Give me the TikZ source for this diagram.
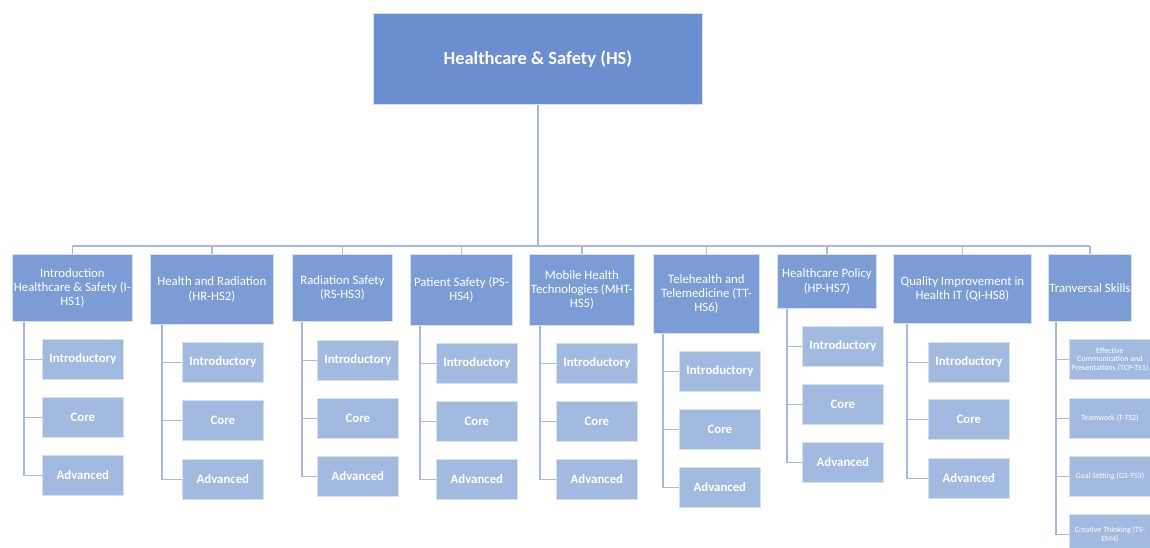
\documentclass[tikz,border=0pt]{standalone}
\usepackage{fontspec}
\setmainfont{Carlito}
\definecolor{rootblue}{HTML}{6A8ECF}
\definecolor{areablue}{HTML}{7C9CD5}
\definecolor{levelblue}{HTML}{A2B9E0}
\definecolor{linkblue}{HTML}{A9B8DE}
\definecolor{edgeblue}{HTML}{D6E0F2}
\begin{document}
\begin{tikzpicture}[x=1pt,y=-1pt,
  boxbase/.style={anchor=north west, draw=edgeblue, line width=0.8pt, inner sep=1pt,
    text=white, align=center},
  rootbox/.style={boxbase, fill=rootblue, font=\fontsize{18.5}{22}\selectfont\bfseries},
  areabox/.style={boxbase, fill=areablue, font=\fontsize{12.8}{14.2}\selectfont},
  levelbox/.style={boxbase, fill=levelblue, font=\fontsize{12.8}{14.2}\selectfont\bfseries,
    minimum width=81pt, minimum height=40pt},
  skillbox/.style={boxbase, fill=levelblue, font=\fontsize{8}{8.5}\selectfont,
    minimum width=81pt, minimum height=40pt},
  conn/.style={draw=linkblue, line width=1.4pt}]
\useasboundingbox (0,0) rectangle (1150,548);
\fill[white] (0,0) rectangle (1150,548);

% root
\node[rootbox, minimum width=329pt, minimum height=91pt] (top) at (373,13) {Healthcare \& Safety (HS)};

% subject areas
\node[areabox, minimum width=120pt, minimum height=67pt] (b1) at (12,254) {Introduction\\Healthcare \& Safety (I-\\HS1)};
\node[areabox, minimum width=123pt, minimum height=70pt] (b2) at (150,254) {Health and Radiation\\(HR-HS2)};
\node[areabox, minimum width=100pt, minimum height=67pt] (b3) at (292,254) {Radiation Safety\\(RS-HS3)};
\node[areabox, minimum width=102pt, minimum height=71pt] (b4) at (410,254) {Patient Safety (PS-\\HS4)};
\node[areabox, minimum width=105pt, minimum height=71pt] (b5) at (529,254) {Mobile Health\\Technologies (MHT-\\HS5)};
\node[areabox, minimum width=106pt, minimum height=79pt] (b6) at (653,254) {Telehealth and\\Telemedicine (TT-\\HS6)};
\node[areabox, minimum width=99pt, minimum height=54pt] (b7) at (777,254) {Healthcare Policy\\(HP-HS7)};
\node[areabox, minimum width=138pt, minimum height=69pt] (b8) at (893,254) {Quality Improvement in\\Health IT (QI-HS8)};
\node[areabox, minimum width=83pt, minimum height=67pt] (b9) at (1048,254) {Tranversal Skills};

% levels
\node[levelbox] (c1a) at (42,339) {Introductory};
\node[levelbox] (c1b) at (42,397) {Core};
\node[levelbox] (c1c) at (42,455) {Advanced};
\node[levelbox] (c2a) at (182,342) {Introductory};
\node[levelbox] (c2b) at (182,400) {Core};
\node[levelbox] (c2c) at (182,459) {Advanced};
\node[levelbox] (c3a) at (317,340) {Introductory};
\node[levelbox] (c3b) at (317,398) {Core};
\node[levelbox] (c3c) at (317,456) {Advanced};
\node[levelbox] (c4a) at (436,343) {Introductory};
\node[levelbox] (c4b) at (436,401) {Core};
\node[levelbox] (c4c) at (436,459) {Advanced};
\node[levelbox] (c5a) at (556,343) {Introductory};
\node[levelbox] (c5b) at (556,401) {Core};
\node[levelbox] (c5c) at (556,459) {Advanced};
\node[levelbox] (c6a) at (679,351) {Introductory};
\node[levelbox] (c6b) at (679,409) {Core};
\node[levelbox] (c6c) at (679,467) {Advanced};
\node[levelbox] (c7a) at (802,326) {Introductory};
\node[levelbox] (c7b) at (802,384) {Core};
\node[levelbox] (c7c) at (802,442) {Advanced};
\node[levelbox] (c8a) at (928,342) {Introductory};
\node[levelbox] (c8b) at (928,399) {Core};
\node[levelbox] (c8c) at (928,458) {Advanced};

% transversal skills
\node[skillbox] (c9a) at (1069,339) {Effective\\Communication and\\Presentations (TCP-TS1)};
\node[skillbox] (c9b) at (1069,398) {Teamwork (T-TS2)};
\node[skillbox] (c9c) at (1069,456) {Goal Setting (GS-TS3)};
\node[skillbox] (c9d) at (1069,514) {Creative Thinking (TS-\\EM4)};

% connectors: root to subject areas
\coordinate (bar) at (0,246);
\draw[conn] (top.south) -- (top.south |- bar);
\draw[conn] (b1.north |- bar) -- (b9.north |- bar);
\foreach \b in {b1,b2,b3,b4,b5,b6,b7,b8,b9}
  \draw[conn] (\b.north) -- (\b.north |- bar);

% connectors: subject areas to levels
\coordinate (v1) at (24,0);
\coordinate (v2) at (162,0);
\coordinate (v3) at (302,0);
\coordinate (v4) at (420,0);
\coordinate (v5) at (540,0);
\coordinate (v6) at (663,0);
\coordinate (v7) at (787,0);
\coordinate (v8) at (907,0);
\coordinate (v9) at (1056,0);
\foreach \i in {1,...,8}
  \foreach \c in {a,b,c}
    \draw[conn] (b\i.south -| v\i) |- (c\i\c.west);
\foreach \c in {a,b,c,d}
  \draw[conn] (b9.south -| v9) |- (c9\c.west);
\end{tikzpicture}
\end{document}
